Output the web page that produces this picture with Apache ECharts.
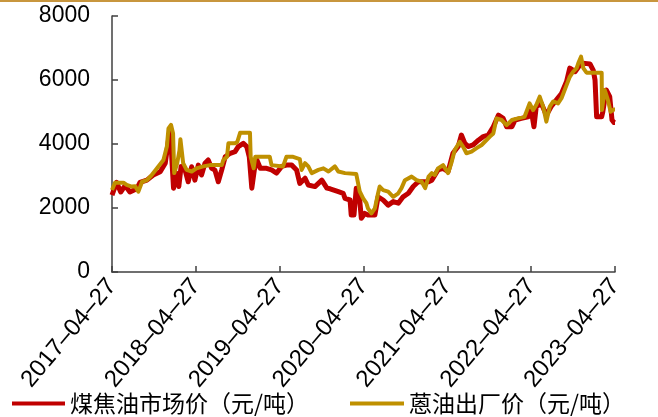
<!DOCTYPE html>
<html>
<head>
<meta charset="utf-8">
<style>
  html, body { margin: 0; padding: 0; background: #fff; }
  #chart { width: 658px; height: 417px; }
</style>
<script src="https://cdn.jsdelivr.net/npm/echarts@6/dist/echarts.min.js"></script>
</head>
<body>
<div id="chart"></div>
<script>
// Coal tar market price vs. anthracene oil ex-works price, 2017-04-27 .. 2023-04-27 (yuan/ton)
const START_DATE = '2017-04-27';
const END_DATE = '2023-04-27';
const yTicks = [0, 2000, 4000, 6000, 8000];
const seriesNames = ['煤焦油市场价（元/吨）', '蒽油出厂价（元/吨）'];

const tarDates = [
  '2017-04-27','2017-05-17','2017-06-04','2017-06-23','2017-07-14','2017-08-13','2017-08-27','2017-09-26',
  '2017-10-24','2017-11-23','2017-12-15','2017-12-29','2018-01-06','2018-01-20','2018-02-02','2018-02-12',
  '2018-02-22','2018-03-11','2018-03-25','2018-04-09','2018-04-23','2018-05-08','2018-05-22','2018-06-06',
  '2018-06-20','2018-07-05','2018-07-19','2018-08-03','2018-08-18','2018-09-02','2018-09-24','2018-10-15',
  '2018-10-29','2018-11-20','2018-12-05','2018-12-16','2018-12-27','2019-01-07','2019-01-18','2019-02-02',
  '2019-03-01','2019-03-23','2019-04-14','2019-05-06','2019-05-27','2019-06-19','2019-07-10','2019-07-24',
  '2019-08-16','2019-08-30','2019-09-28','2019-10-28','2019-11-19','2019-12-03','2020-01-08','2020-01-29',
  '2020-02-06','2020-02-28','2020-03-04','2020-03-16','2020-03-26','2020-04-10','2020-04-17','2020-05-02',
  '2020-05-16','2020-06-15','2020-06-29','2020-07-21','2020-08-12','2020-09-03','2020-09-25','2020-10-16',
  '2020-11-08','2020-11-29','2020-12-21','2021-02-04','2021-02-18','2021-03-17','2021-04-08','2021-04-30',
  '2021-05-21','2021-06-13','2021-06-27','2021-07-12','2021-07-26','2021-08-17','2021-09-09','2021-09-30',
  '2021-10-22','2021-11-13','2021-12-05','2021-12-26','2022-01-10','2022-02-02','2022-02-16','2022-03-15',
  '2022-04-13','2022-04-27','2022-05-09','2022-05-19','2022-06-10','2022-07-02','2022-07-23','2022-08-15',
  '2022-09-06','2022-09-28','2022-10-12','2022-11-04','2022-11-25','2022-12-17','2023-01-08','2023-01-22',
  '2023-01-30','2023-02-06','2023-02-28','2023-03-05','2023-03-20','2023-04-04','2023-04-14','2023-04-23',
  '2023-04-27'
];
const tarPrices = [
  2400, 2800, 2500, 2700, 2500, 2600, 2800, 2870,
  3030, 3130, 3400, 4120, 4380, 2620, 3090, 2670,
  3300, 3190, 2820, 3290, 2870, 3340, 3030, 3400,
  3500, 3240, 3190, 2820, 3190, 3600, 3710, 3760,
  3920, 4020, 3920, 3600, 2620, 3190, 3500, 3240,
  3240, 3190, 3090, 3300, 3340, 3340, 3190, 2770,
  2930, 2720, 2670, 2870, 2620, 2600, 2510, 2460,
  2300, 2250, 1780, 1780, 2620, 2250, 1680, 1830,
  1780, 1780, 2350, 2250, 2090, 2200, 2150, 2350,
  2460, 2670, 2820, 2820, 2870, 3190, 3240, 3140,
  3710, 3920, 4280, 4020, 3920, 3970, 4120, 4230,
  4280, 4540, 4900, 4800, 4540, 4540, 4750, 4800,
  4850, 5060, 4540, 5170, 5270, 4900, 5170, 5380,
  5580, 5950, 6370, 6260, 6470, 6520, 6500, 6310,
  6000, 4850, 4850, 5010, 5690, 5480, 4750, 4670,
  4670
];

const oilDates = [
  '2017-04-27','2017-05-10','2017-06-16','2017-06-30','2017-07-22','2017-08-06','2017-08-20','2017-09-05',
  '2017-09-26','2017-10-17','2017-11-09','2017-12-07','2017-12-22','2017-12-29','2018-01-09','2018-01-18',
  '2018-01-23','2018-02-05','2018-02-15','2018-02-19','2018-02-27','2018-03-03','2018-03-18','2018-04-09',
  '2018-04-30','2018-05-29','2018-06-28','2018-07-27','2018-08-18','2018-08-25','2018-09-10','2018-09-16',
  '2018-10-15','2018-10-25','2018-11-06','2018-12-19','2018-12-22','2019-01-04','2019-01-11','2019-03-15',
  '2019-03-23','2019-05-12','2019-05-27','2019-06-25','2019-07-24','2019-08-01','2019-08-16','2019-08-30',
  '2019-09-14','2019-10-13','2019-11-04','2019-11-26','2019-12-24','2020-01-08','2020-02-06','2020-03-26',
  '2020-04-10','2020-04-25','2020-05-09','2020-05-16','2020-05-31','2020-06-15','2020-06-29','2020-07-06',
  '2020-07-21','2020-08-12','2020-09-03','2020-09-25','2020-10-09','2020-10-24','2020-11-22','2020-12-14',
  '2021-01-05','2021-01-20','2021-02-04','2021-02-18','2021-03-03','2021-03-17','2021-04-08','2021-04-30',
  '2021-05-14','2021-05-29','2021-06-20','2021-07-04','2021-07-19','2021-08-10','2021-09-01','2021-09-23',
  '2021-10-07','2021-10-29','2021-11-13','2021-11-27','2021-12-19','2022-01-10','2022-02-02','2022-02-28',
  '2022-03-29','2022-04-20','2022-05-05','2022-05-19','2022-06-03','2022-06-18','2022-07-02','2022-07-17',
  '2022-08-01','2022-08-22','2022-09-06','2022-09-28','2022-10-12','2022-10-27','2022-11-11','2022-11-18',
  '2022-11-30','2022-12-10','2022-12-24','2023-02-28','2023-03-01','2023-03-13','2023-03-27','2023-04-08',
  '2023-04-23','2023-04-27'
];
const oilPrices = [
  2560, 2790, 2790, 2720, 2670, 2680, 2510, 2820,
  2870, 3030, 3240, 3500, 3920, 4490, 4600, 4330,
  3090, 3400, 3800, 4150, 4150, 3400, 3190, 3140,
  3240, 3300, 3340, 3340, 3340, 3500, 3600, 4020,
  4020, 4070, 4350, 4350, 3600, 3240, 3600, 3600,
  3340, 3300, 3600, 3600, 3530, 3190, 3400, 3300,
  3090, 3190, 3240, 3140, 3300, 3140, 3090, 3060,
  2520, 2300, 2150, 1990, 1830, 1990, 2460, 2670,
  2560, 2510, 2350, 2460, 2620, 2870, 2980, 2870,
  2820, 2620, 2980, 3090, 3030, 3240, 3340, 3090,
  3400, 3810, 4070, 3920, 3710, 3760, 3870, 3970,
  4070, 4230, 4330, 4800, 4750, 4590, 4750, 4800,
  4850, 5270, 5060, 5220, 5480, 5170, 4700, 5170,
  5330, 5270, 5430, 5840, 6100, 6260, 6370, 6520,
  6730, 6370, 6230, 6230, 5060, 5690, 5380, 5010,
  5080, 5080
];

// The x axis runs in days since the first date, so the yearly ticks land on each 04-27.
const DAY = 86400000;
function utc(s) {
  const p = s.split('-').map(Number);
  return Date.UTC(p[0], p[1] - 1, p[2]);
}
const t0 = utc(START_DATE);
const spanDays = (utc(END_DATE) - t0) / DAY;
const yearCount = Number(END_DATE.slice(0, 4)) - Number(START_DATE.slice(0, 4));
function toPairs(dates, values) {
  return dates.map((d, i) => [(utc(d) - t0) / DAY, values[i]]);
}
function dayLabel(v) {
  const d = new Date(t0 + Math.round(v) * DAY);
  const mm = String(d.getUTCMonth() + 1).padStart(2, '0');
  const dd = String(d.getUTCDate()).padStart(2, '0');
  return d.getUTCFullYear() + '–' + mm + '–' + dd;
}

const chart = echarts.init(document.getElementById('chart'), null, { renderer: 'canvas' });
const axisColor = '#404040';
const labelFont = 'Liberation Sans, Arial, sans-serif';
const cjkFont = 'Noto Sans CJK SC, sans-serif';

chart.setOption({
  animation: false,
  backgroundColor: '#ffffff',
  graphic: [{
    type: 'rect',
    left: 0, top: 0,
    shape: { width: 658, height: 2 },
    style: { fill: '#C8963E' },
    silent: true
  }],
  grid: { left: 112, right: 43, top: 16, bottom: 145, containLabel: false },
  legend: [
    {
      data: [seriesNames[0]],
      left: 12, top: 392, padding: 0,
      icon: 'rect', itemWidth: 53, itemHeight: 4, itemGap: 5,
      textStyle: { fontFamily: cjkFont, fontSize: 23, color: '#000' }
    },
    {
      data: [seriesNames[1]],
      left: 350, top: 392, padding: 0,
      icon: 'rect', itemWidth: 54, itemHeight: 4, itemGap: 5,
      textStyle: { fontFamily: cjkFont, fontSize: 23, color: '#000' }
    }
  ],
  xAxis: {
    type: 'value',
    min: 0,
    max: spanDays,
    interval: spanDays / yearCount,
    axisLine: { show: true, lineStyle: { color: axisColor, width: 1.5 } },
    axisTick: { show: true, inside: true, length: 6, lineStyle: { color: axisColor, width: 1.5 } },
    splitLine: { show: false },
    axisLabel: {
      rotate: 50,
      margin: 10,
      fontSize: 24,
      fontFamily: labelFont,
      color: '#000',
      showMinLabel: true,
      showMaxLabel: true,
      formatter: dayLabel
    }
  },
  yAxis: {
    type: 'value',
    min: yTicks[0],
    max: yTicks[yTicks.length - 1],
    interval: yTicks[1] - yTicks[0],
    axisLine: { show: true, lineStyle: { color: axisColor, width: 1.5 } },
    axisTick: { show: true, inside: true, length: 6, lineStyle: { color: axisColor, width: 1.5 } },
    splitLine: { show: false },
    axisLabel: {
      fontSize: 23, fontFamily: labelFont, color: '#000', margin: 22,
      formatter: v => String(v)
    }
  },
  series: [
    {
      name: seriesNames[0],
      type: 'line',
      data: toPairs(tarDates, tarPrices),
      showSymbol: false,
      color: '#C00000',
      lineStyle: { color: '#C00000', width: 5, join: 'round' },
      z: 2
    },
    {
      name: seriesNames[1],
      type: 'line',
      data: toPairs(oilDates, oilPrices),
      showSymbol: false,
      color: '#BF9000',
      lineStyle: { color: '#BF9000', width: 4, join: 'round' },
      z: 3
    }
  ]
});
</script>
</body>
</html>
